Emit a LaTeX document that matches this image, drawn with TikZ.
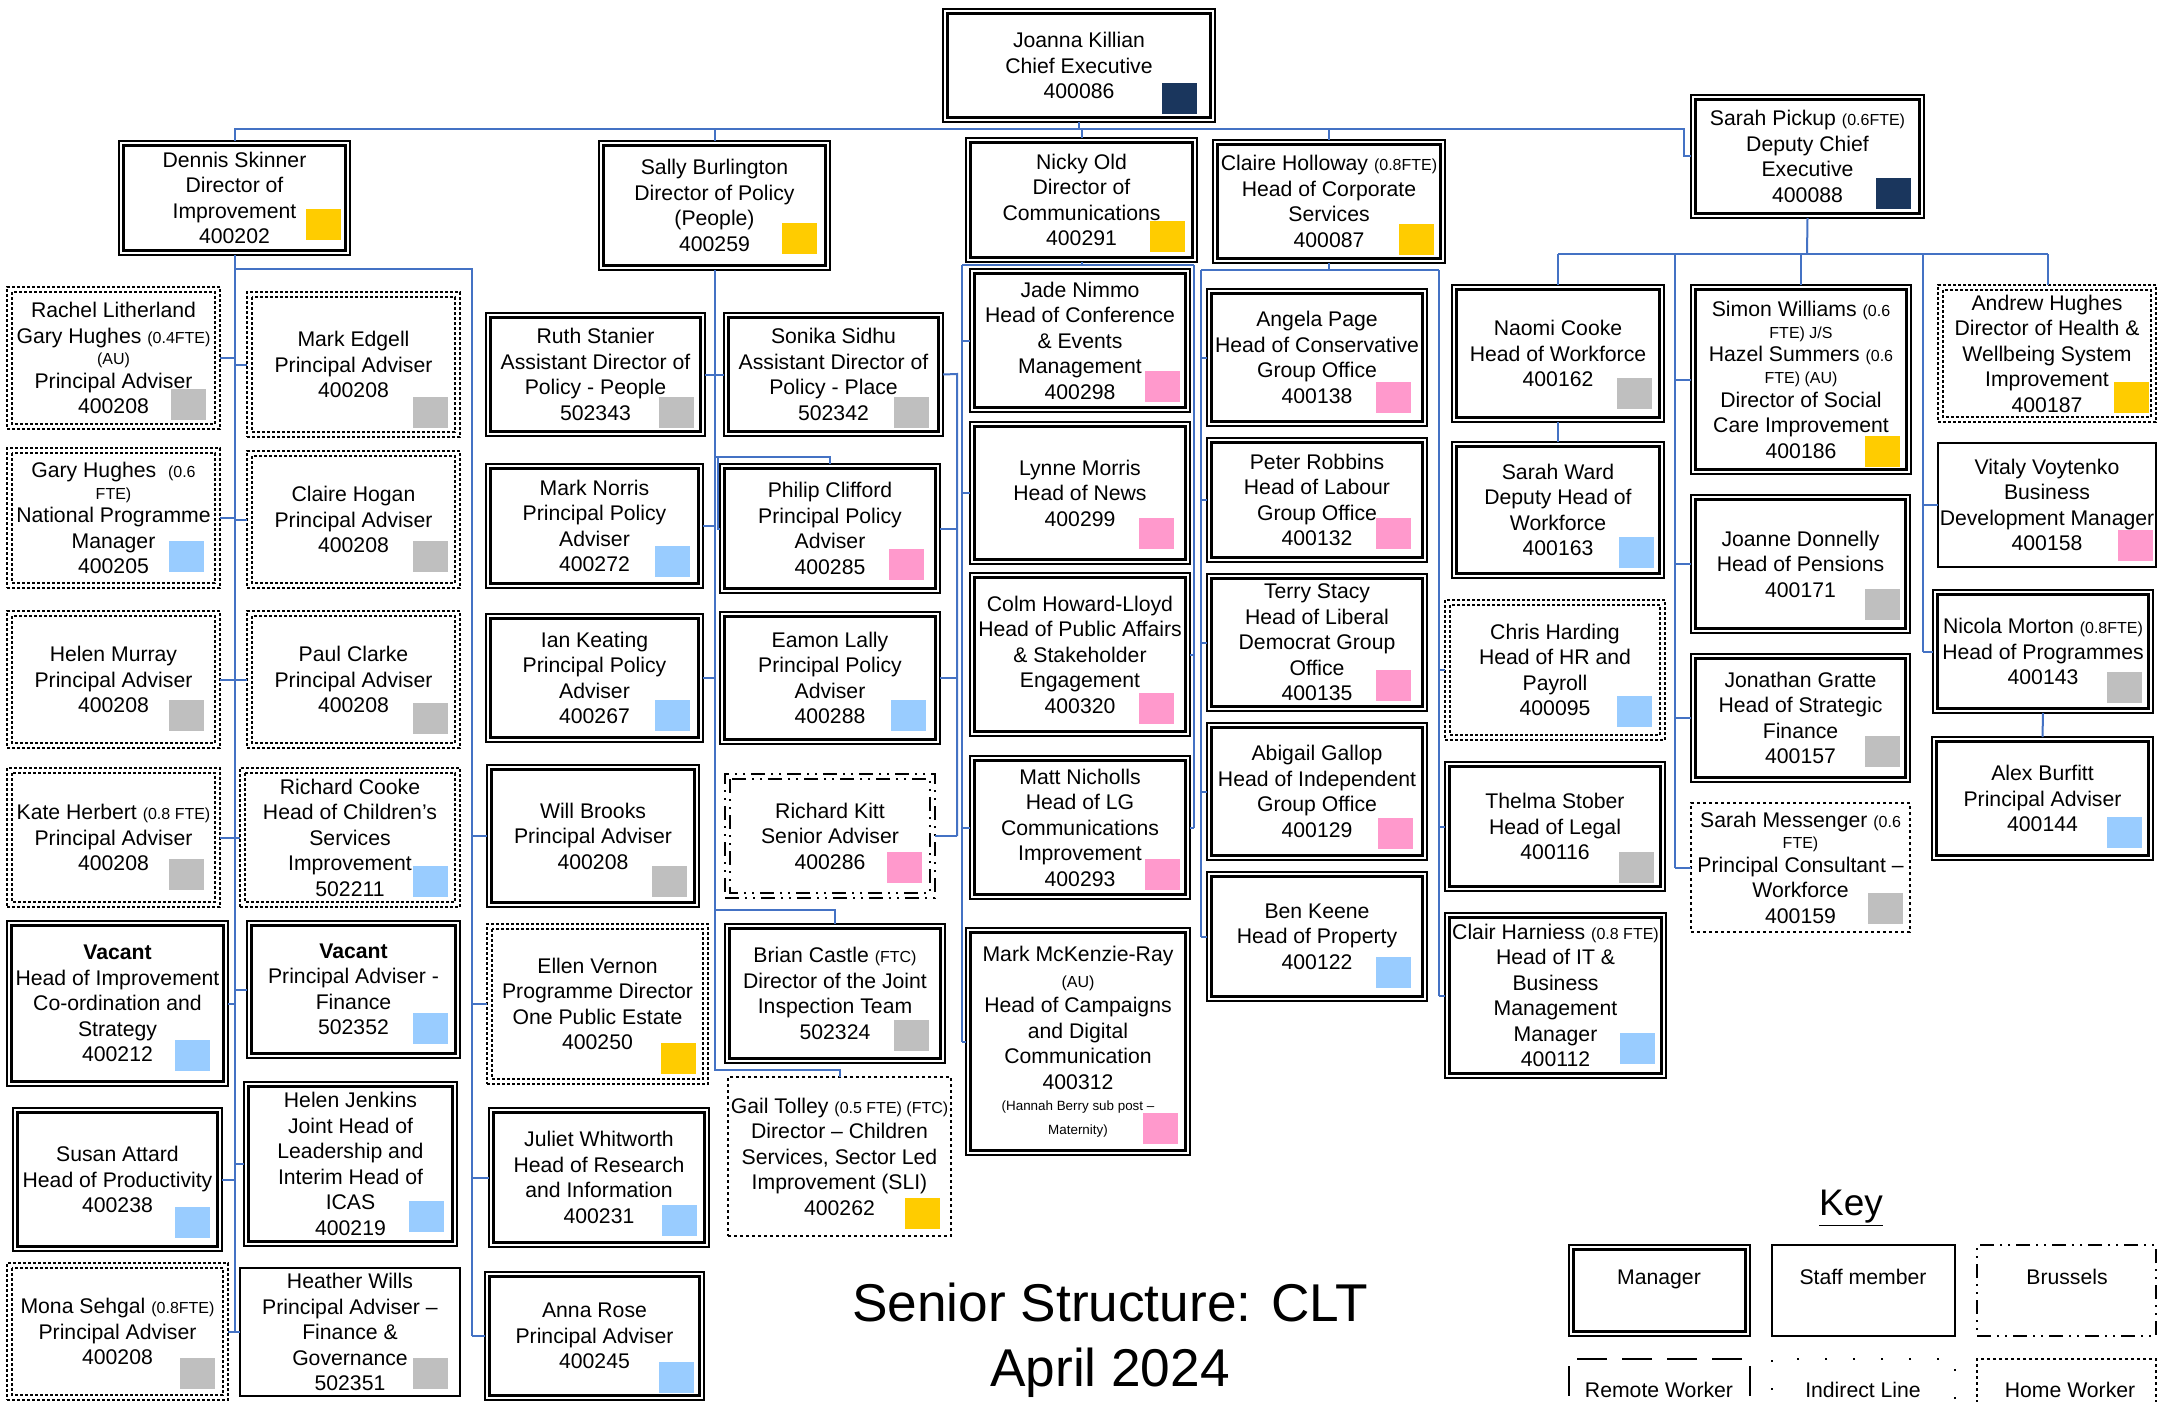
\documentclass[tikz,border=0pt]{standalone}
\usepackage{fontspec}
\setmainfont{Liberation Sans}
\usetikzlibrary{calc}
\definecolor{cnav}{RGB}{26,54,93}
\definecolor{cyel}{RGB}{255,204,0}
\definecolor{cgry}{RGB}{191,191,191}
\definecolor{cblu}{RGB}{153,204,255}
\definecolor{cpnk}{RGB}{255,153,204}
\definecolor{cline}{RGB}{68,114,196}
\newcommand\bxf{\fontsize{10.6pt}{12.75pt}\selectfont}
\newcommand\smf{\fontsize{8pt}{9.5pt}\selectfont}
\newcommand\tnf{\fontsize{6.7pt}{8pt}\selectfont}
\newcommand\obx[7]{%
  \pgfmathsetmacro\bxw{(#5-#3)*0.5}%
  \pgfmathsetmacro\bxh{(#6-#4)*0.5}%
  \node[#1,minimum width=\bxw pt,minimum height=\bxh pt] (#2) at ({(#3+#5)/2},{(#4+#6)/2}) {#7};}
\newcommand\csq[3]{\fill[#3] (#1,#2) rectangle ++(35,31);}
\tikzset{
  obox/.style={align=center,inner sep=0pt,outer sep=0pt,font=\bxf},
  mgr/.style={obox,draw,line width=0.9pt,
    path picture={\draw[solid,line width=1.2pt] ([shift={(2.25pt,-2.25pt)}]path picture bounding box.north west) rectangle ([shift={(-2.25pt,2.25pt)}]path picture bounding box.south east);}},
  homemgr/.style={obox,draw,line width=0.9pt,dash pattern=on 1.5pt off 1pt,
    path picture={\draw[line width=0.9pt,dash pattern=on 1.5pt off 1pt] ([shift={(2.5pt,-2.5pt)}]path picture bounding box.north west) rectangle ([shift={(-2.5pt,2.5pt)}]path picture bounding box.south east);}},
  brusmgr/.style={obox,draw,line width=0.9pt,dash pattern=on 7pt off 3pt on 1pt off 3pt on 1pt off 3pt,
    path picture={\draw[line width=0.9pt,dash pattern=on 7pt off 3pt on 1pt off 3pt on 1pt off 3pt] ([shift={(2.5pt,-2.5pt)}]path picture bounding box.north west) rectangle ([shift={(-2.5pt,2.5pt)}]path picture bounding box.south east);}},
  homew/.style={obox,draw,line width=0.8pt,dash pattern=on 1.5pt off 1.5pt},
  staffb/.style={obox,draw,line width=1pt},
  brusb/.style={obox,draw,line width=0.9pt,dash pattern=on 7pt off 3pt on 1pt off 3pt on 1pt off 3pt},
  remoteb/.style={obox,draw,line width=1pt,dash pattern=on 15pt off 7.5pt},
  indirectb/.style={obox,draw,line width=1.3pt,dash pattern=on 1pt off 13pt},
  conn/.style={draw=cline,line width=1pt},
  lbl/.style={anchor=base,font=\bxf,inner sep=0pt}
}
\begin{document}
\begin{tikzpicture}[x=0.5pt,y=-0.5pt]
\useasboundingbox (0,0) rectangle (2158,1402);
\fill[white] (0,0) rectangle (2158,1402);

% ---------- colour squares ----------
\csq{1162}{83}{cnav}
\csq{1876}{178}{cnav}
\csq{306}{209}{cyel}
\csq{782}{223}{cyel}
\csq{1150}{221}{cyel}
\csq{1399}{224}{cyel}
\csq{171}{389}{cgry}
\csq{413}{397}{cgry}
\csq{169}{541}{cblu}
\csq{413}{541}{cgry}
\csq{169}{700}{cgry}
\csq{413}{703}{cgry}
\csq{169}{859}{cgry}
\csq{413}{866}{cblu}
\csq{175}{1040}{cblu}
\csq{413}{1013}{cblu}
\csq{175}{1207}{cblu}
\csq{409}{1201}{cblu}
\csq{180}{1358}{cgry}
\csq{413}{1358}{cgry}
\csq{659}{397}{cgry}
\csq{894}{397}{cgry}
\csq{655}{546}{cblu}
\csq{655}{700}{cblu}
\csq{652}{866}{cgry}
\csq{661}{1043}{cyel}
\csq{662}{1205}{cblu}
\csq{659}{1362}{cblu}
\csq{889}{549}{cpnk}
\csq{891}{700}{cblu}
\csq{887}{852}{cpnk}
\csq{894}{1020}{cgry}
\csq{905}{1198}{cyel}
\csq{1145}{371}{cpnk}
\csq{1139}{518}{cpnk}
\csq{1139}{693}{cpnk}
\csq{1145}{859}{cpnk}
\csq{1143}{1113}{cpnk}
\csq{1376}{382}{cpnk}
\csq{1376}{518}{cpnk}
\csq{1376}{670}{cpnk}
\csq{1378}{818}{cpnk}
\csq{1376}{957}{cblu}
\csq{1617}{378}{cgry}
\csq{1619}{537}{cblu}
\csq{1617}{696}{cblu}
\csq{1619}{852}{cgry}
\csq{1620}{1033}{cblu}
\csq{1865}{436}{cyel}
\csq{1865}{589}{cgry}
\csq{1865}{736}{cgry}
\csq{1868}{893}{cgry}
\csq{2114}{382}{cyel}
\csq{2118}{530}{cpnk}
\csq{2107}{672}{cgry}
\csq{2107}{817}{cblu}

% ---------- boxes ----------
\obx{mgr}{joanna}{943}{9}{1215}{122}{Joanna Killian\\Chief Executive\\400086}
\obx{mgr}{pickup}{1691}{95}{1924}{218}{Sarah Pickup {\smf (0.6FTE)}\\Deputy Chief\\Executive\\400088}
\obx{mgr}{dennis}{119}{141}{350}{255}{Dennis Skinner\\Director of\\Improvement\\400202}
\obx{mgr}{sally}{599}{141}{830}{270}{Sally Burlington\\Director of Policy\\(People)\\400259}
\obx{mgr}{nicky}{966}{138}{1197}{262}{Nicky Old\\Director of\\Communications\\400291}
\obx{mgr}{holloway}{1213}{140}{1445}{263}{Claire Holloway {\smf (0.8FTE)}\\Head of Corporate\\Services\\400087}

% Dennis left column
\obx{homemgr}{rachel}{7}{287}{220}{429}{Rachel Litherland\\Gary Hughes {\smf (0.4FTE)}\\[-2pt]{\smf (AU)}\\[-1pt]Principal Adviser\\400208}
\obx{homemgr}{garyn}{7}{448}{220}{588}{Gary Hughes \ {\smf (0.6}\\[-2pt]{\smf FTE)}\\[-1pt]National Programme\\Manager\\400205}
\obx{homemgr}{hmurray}{7}{611}{220}{748}{Helen Murray\\Principal Adviser\\400208}
\obx{homemgr}{kate}{7}{768}{220}{907}{Kate Herbert {\smf (0.8 FTE)}\\Principal Adviser\\400208}
\obx{mgr}{vachoi}{7}{921}{228}{1086}{\textbf{Vacant}\\Head of Improvement\\Co-ordination and\\Strategy\\400212}
\obx{mgr}{susan}{13}{1108}{222}{1251}{Susan Attard\\Head of Productivity\\400238}
\obx{homemgr}{mona}{7}{1263}{228}{1400}{Mona Sehgal {\smf (0.8FTE)}\\Principal Adviser\\400208}
% Dennis right column
\obx{homemgr}{edgell}{247}{292}{460}{437}{Mark Edgell\\Principal Adviser\\400208}
\obx{homemgr}{hogan}{247}{451}{460}{588}{Claire Hogan\\Principal Adviser\\400208}
\obx{homemgr}{clarke}{247}{611}{460}{748}{Paul Clarke\\Principal Adviser\\400208}
\obx{homemgr}{cooke}{240}{768}{460}{907}{Richard Cooke\\Head of Children’s\\Services\\Improvement\\502211}
\obx{mgr}{vacpa}{247}{921}{460}{1058}{\textbf{Vacant}\\Principal Adviser -\\Finance\\502352}
\obx{mgr}{jenkins}{244}{1082}{457}{1246}{Helen Jenkins\\Joint Head of\\Leadership and\\Interim Head of\\ICAS\\400219}
\obx{staffb}{heather}{240}{1268}{460}{1396}{Heather Wills\\Principal Adviser –\\Finance \&\\Governance\\502351}

% Sally column C
\obx{mgr}{ruth}{486}{313}{705}{436}{Ruth Stanier\\Assistant Director of\\Policy - People\\502343}
\obx{mgr}{norris}{486}{464}{703}{588}{Mark Norris\\Principal Policy\\Adviser\\400272}
\obx{mgr}{keating}{486}{614}{703}{742}{Ian Keating\\Principal Policy\\Adviser\\400267}
\obx{mgr}{brooks}{487}{765}{699}{907}{Will Brooks\\Principal Adviser\\400208}
\obx{homemgr}{vernon}{487}{924}{708}{1084}{Ellen Vernon\\Programme Director\\One Public Estate\\400250}
\obx{mgr}{whitworth}{489}{1108}{709}{1247}{Juliet Whitworth\\Head of Research\\and Information\\400231}
\obx{mgr}{anna}{485}{1272}{704}{1400}{Anna Rose\\Principal Adviser\\400245}

% column D
\obx{mgr}{sonika}{724}{313}{943}{436}{Sonika Sidhu\\Assistant Director of\\Policy - Place\\502342}
\obx{mgr}{philip}{720}{464}{940}{593}{Philip Clifford\\Principal Policy\\Adviser\\400285}
\obx{mgr}{eamon}{720}{612}{940}{744}{Eamon Lally\\Principal Policy\\Adviser\\400288}
\obx{brusmgr}{kitt}{725}{774}{935}{898}{Richard Kitt\\Senior Adviser\\400286}
\obx{mgr}{brian}{725}{924}{945}{1063}{Brian Castle {\smf (FTC)}\\Director of the Joint\\Inspection Team\\502324}
\obx{homew}{gail}{728}{1077}{951}{1236}{Gail Tolley {\smf (0.5 FTE) (FTC)}\\Director – Children\\Services, Sector Led\\Improvement (SLI)\\400262}

% Nicky column E
\obx{mgr}{jade}{970}{269}{1190}{412}{Jade Nimmo\\Head of Conference\\\& Events\\Management\\400298}
\obx{mgr}{lynne}{970}{422}{1190}{564}{Lynne Morris\\Head of News\\400299}
\obx{mgr}{colm}{970}{573}{1190}{736}{Colm Howard-Lloyd\\Head of Public Affairs\\\& Stakeholder\\Engagement\\400320}
\obx{mgr}{matt}{970}{756}{1190}{899}{Matt Nicholls\\Head of LG\\Communications\\Improvement\\400293}
\obx{mgr}{mckenzie}{966}{928}{1190}{1155}{Mark McKenzie-Ray\\{\smf (AU)}\\Head of Campaigns\\and Digital\\Communication\\400312\\[-2pt]{\tnf (Hannah Berry sub post –}\\[-1pt]{\tnf Maternity)}}

% Holloway column F
\obx{mgr}{page}{1207}{289}{1427}{426}{Angela Page\\Head of Conservative\\Group Office\\400138}
\obx{mgr}{robbins}{1207}{438}{1427}{562}{Peter Robbins\\Head of Labour\\Group Office\\400132}
\obx{mgr}{stacy}{1207}{574}{1427}{711}{Terry Stacy\\Head of Liberal\\Democrat Group\\Office\\400135}
\obx{mgr}{gallop}{1207}{723}{1427}{860}{Abigail Gallop\\Head of Independent\\Group Office\\400129}
\obx{mgr}{keene}{1207}{872}{1427}{1001}{Ben Keene\\Head of Property\\400122}

% column G
\obx{mgr}{naomi}{1452}{285}{1664}{422}{Naomi Cooke\\Head of Workforce\\400162}
\obx{mgr}{ward}{1452}{442}{1664}{578}{Sarah Ward\\Deputy Head of\\Workforce\\400163}
\obx{homemgr}{harding}{1445}{600}{1665}{740}{Chris Harding\\Head of HR and\\Payroll\\400095}
\obx{mgr}{stober}{1445}{762}{1665}{891}{Thelma Stober\\Head of Legal\\400116}
\obx{mgr}{harniess}{1445}{913}{1666}{1078}{Clair Harniess {\smf (0.8 FTE)}\\Head of IT \&\\Business\\Management\\Manager\\400112}

% column H
\obx{mgr}{williams}{1691}{285}{1911}{474}{Simon Williams {\smf (0.6}\\[-1.5pt]{\smf FTE) J/S}\\[-1.5pt]Hazel Summers {\smf (0.6}\\[-1.5pt]{\smf FTE) (AU)}\\[-1pt]Director of Social\\Care Improvement\\400186}
\obx{mgr}{donnelly}{1691}{495}{1910}{633}{Joanne Donnelly\\Head of Pensions\\400171}
\obx{mgr}{gratte}{1691}{654}{1910}{782}{Jonathan Gratte\\Head of Strategic\\Finance\\400157}
\obx{homew}{messenger}{1691}{803}{1910}{932}{Sarah Messenger {\smf (0.6}\\[-2pt]{\smf FTE)}\\[-1pt]Principal Consultant –\\Workforce\\400159}

% column I
\obx{homemgr}{hughes}{1938}{285}{2156}{422}{Andrew Hughes\\Director of Health \&\\Wellbeing System\\Improvement\\400187}
\obx{staffb}{voytenko}{1938}{443}{2156}{567}{Vitaly Voytenko\\Business\\Development Manager\\400158}
\obx{mgr}{morton}{1933}{590}{2153}{713}{Nicola Morton {\smf (0.8FTE)}\\Head of Programmes\\400143}
\obx{mgr}{burfitt}{1932}{737}{2153}{860}{Alex Burfitt\\Principal Adviser\\400144}

% ---------- connectors ----------
\coordinate (busR) at (1684,129);
\draw[conn] (dennis.north) |- (busR) |- (pickup.west);
\draw[conn] (joanna.south) -- (joanna.south |- busR);
\foreach \n in {sally,nicky,holloway} \draw[conn] (\n.north) -- (\n.north |- busR);

% Dennis trunk 1
\draw[conn] (dennis.south) -- (dennis.south |- heather.west);
\foreach \n in {rachel,garyn,hmurray,kate,vachoi,susan,mona} \draw[conn] (\n.east) -- (\n.east -| dennis.south);
\foreach \n in {edgell,hogan,clarke,cooke,vacpa,jenkins,heather} \draw[conn] (\n.west) -- (\n.west -| dennis.south);
% Dennis trunk 2
\coordinate (d2) at (472,269);
\draw[conn] (dennis.south) |- (d2) -- (d2 |- anna.west);
\foreach \n in {brooks,vernon,whitworth,anna} \draw[conn] (\n.west) -- (\n.west -| d2);

% Sally
\coordinate (sg) at (714.5,1070);
\coordinate (sb) at (714.5,910);
\coordinate (sp) at (714.5,457);
\coordinate (sp2) at (717.5,457);
\draw[conn] (sally.south) -- (sg) -| (gail.north);
\draw[conn] (sb) -| (brian.north);
\draw[conn] (sp) -| (philip.north);
\draw[conn] (sp2) |- (philip.west);
\draw[conn] (ruth.east) -- (sonika.west);
\foreach \n in {norris,keating} \draw[conn] (\n.east) -- (\n.east -| sg);

% Sonika
\coordinate (so) at (957,374);
\draw[conn] (sonika.east) -- (so) -- (so |- kitt.east);
\foreach \n in {philip,eamon,kitt} \draw[conn] (\n.east) -- (\n.east -| so);

% Nicky
\coordinate (nl) at (962,265);
\coordinate (nr) at (1194,265);
\draw[conn] (nicky.south) -- (nicky.south |- nl);
\draw[conn] (nl) -- (nr);
\draw[conn] (nl) -- (nl |- mckenzie.west);
\foreach \n in {jade,lynne,matt,mckenzie} \draw[conn] (\n.west) -- (\n.west -| nl);
\draw[conn] (nr) -- (nr |- matt.east);
\foreach \n in {colm,matt} \draw[conn] (\n.east) -- (\n.east -| nr);

% Holloway
\coordinate (hl) at (1201,270);
\coordinate (hr) at (1438.5,270);
\draw[conn] (holloway.south) -- (holloway.south |- hl);
\draw[conn] (hl) -- (hr);
\draw[conn] (hl) -- (hl |- keene.west);
\foreach \n in {page,robbins,stacy,gallop,keene} \draw[conn] (\n.west) -- (\n.west -| hl);
\draw[conn] (hr) -- (hr |- harniess.west);
\foreach \n in {harding,stober,harniess} \draw[conn] (\n.west) -- (\n.west -| hr);

% Pickup
\coordinate (pb) at (1807,254);
\coordinate (pl) at (1558,254);
\coordinate (pr) at (2048,254);
\coordinate (pm1) at (1675,254);
\coordinate (pm2) at (1923,254);
\draw[conn] (pickup.south) -- (pb);
\draw[conn] (pl) -- (pr);
\draw[conn] (pl) -- (pl |- naomi.north);
\draw[conn] (pr) -- (pr |- hughes.north);
\draw[conn] (williams.north) -- (williams.north |- pb);
\draw[conn] (pm1) -- (pm1 |- messenger.west);
\foreach \n in {williams,donnelly,gratte,messenger} \draw[conn] (\n.west) -- (\n.west -| pm1);
\draw[conn] (pm2) -- (pm2 |- morton.west);
\foreach \n in {voytenko,morton} \draw[conn] (\n.west) -- (\n.west -| pm2);
\draw[conn] (naomi.south) -- (ward.north);
\draw[conn] (morton.south) -- (burfitt.north);

% ---------- title ----------
\node[anchor=base,inner sep=0pt,font=\fontsize{26.6pt}{32pt}\selectfont] (title1) at (1110,1321) {Senior Structure: CLT};
\node[anchor=base,inner sep=0pt,font=\fontsize{26.6pt}{32pt}\selectfont] (title2) at (1110,1386) {April 2024};

% ---------- key ----------
\node[anchor=base,inner sep=0pt,font=\fontsize{18.5pt}{21pt}\selectfont] (keyt) at (1851,1215) {\underline{Key}};
\obx{mgr}{kmgr}{1569}{1245}{1750}{1336}{}
\obx{staffb}{kstaff}{1772}{1245}{1955}{1336}{}
\obx{brusb}{kbrus}{1977}{1245}{2156}{1336}{}
\obx{remoteb}{kremote}{1569}{1359}{1750}{1440}{}
\obx{indirectb}{kind}{1772}{1359}{1955}{1440}{}
\obx{homew}{khome}{1977}{1359}{2156}{1440}{}
\node[lbl] (lmgr) at (1659,1284) {Manager};
\node[lbl] (lstaff) at (1863,1284) {Staff member};
\node[lbl] (lbrus) at (2067,1284) {Brussels};
\node[lbl] (lremote) at (1659,1397) {Remote Worker};
\node[lbl] (lind) at (1863,1397) {Indirect Line};
\node[lbl] (lhome) at (2070,1397) {Home Worker};
\end{tikzpicture}
\end{document}
